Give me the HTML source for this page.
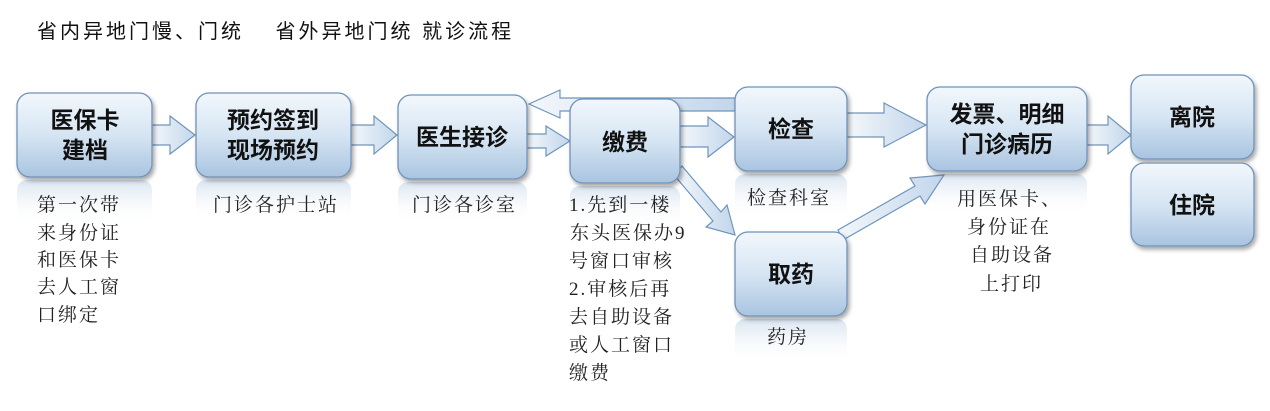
<!DOCTYPE html>
<html><head><meta charset="utf-8"><style>
body{margin:0;background:#fff;width:1270px;height:411px;overflow:hidden}
svg{display:block}
.b{font-family:"Liberation Sans","Noto Sans CJK SC",sans-serif;font-weight:bold;font-size:23px;fill:#111;text-anchor:middle}
.n{font-family:"Liberation Serif","Noto Serif CJK SC",serif;font-size:19px;letter-spacing:2px;fill:#222}
.t{font-family:"Liberation Sans","Noto Sans CJK SC",sans-serif;font-size:20px;letter-spacing:3px;fill:#111}
</style></head><body>
<svg width="1270" height="411" viewBox="0 0 1270 411">
<defs>
<linearGradient id="g" x1="0" y1="0" x2="0" y2="1"><stop offset="0" stop-color="#f2f7fc"/><stop offset="0.5" stop-color="#d6e5f3"/><stop offset="1" stop-color="#a9c4e0"/></linearGradient>
<linearGradient id="r" x1="0" y1="0" x2="0" y2="1"><stop offset="0" stop-color="#c9d9ea" stop-opacity="0.7"/><stop offset="1" stop-color="#fff" stop-opacity="0"/></linearGradient>
<linearGradient id="a" x1="0" y1="0" x2="1" y2="0"><stop offset="0" stop-color="#f3f7fb"/><stop offset="1" stop-color="#c2d6eb"/></linearGradient>
<filter id="s" x="-10%" y="-10%" width="125%" height="130%"><feDropShadow dx="2" dy="3" stdDeviation="2" flood-color="#000" flood-opacity="0.35"/></filter>
</defs>
<text class="t" x="37" y="38">省内异地门慢、门统　 省外异地门统  就诊流程</text>
<g fill="url(#r)">
<rect x="17" y="180" width="135" height="45" rx="10"/>
<rect x="196" y="180" width="155" height="40" rx="10"/>
<rect x="398" y="182" width="129" height="40" rx="10"/>
<rect x="570" y="186" width="110" height="40" rx="10"/>
<rect x="735" y="174" width="112" height="45" rx="10"/>
<rect x="927" y="174" width="160" height="40" rx="10"/>
<rect x="735" y="319" width="112" height="45" rx="10"/>
</g>
<g fill="url(#a)" stroke="#6f95bd" stroke-width="1.2">
<path d="M152,125 H170 V116 L195,135 L170,154 V145 H152 Z"/>
<path d="M351,125 H374 V116 L397,135 L374,154 V145 H351 Z"/>
<path d="M527,134 H546 V126 L570,141 L546,156 V148 H527 Z"/>
<path d="M735,98 H560 V90 L529,104 L560,118 V111 H735 Z"/>
<path d="M680,126 H708 V117 L734,137 L708,157 V147 H680 Z"/>
<path d="M847,113 H884 V103 L926,125 L884,147 V137 H847 Z"/>
<path d="M1087,125 H1108 V116 L1131,135 L1108,154 V145 H1087 Z"/>
<path d="M674,175 L713,221 L706,227 L735,235 L727,205 L721,212 L682,166 Z"/>
<path d="M843,240 L920,196 L925,204 L944,175 L910,178 L915,186 L838,230 Z"/>
</g>
<g fill="url(#g)" stroke="#6f92b8" stroke-width="1.3" filter="url(#s)">
<rect x="17" y="93" width="135" height="84" rx="13"/>
<rect x="196" y="93" width="155" height="84" rx="13"/>
<rect x="398" y="95" width="129" height="84" rx="13"/>
<rect x="570" y="99" width="110" height="84" rx="13"/>
<rect x="735" y="87" width="112" height="84" rx="13"/>
<rect x="927" y="87" width="160" height="84" rx="13"/>
<rect x="1131" y="75" width="123" height="84" rx="13"/>
<rect x="1131" y="163" width="123" height="83" rx="13"/>
<rect x="735" y="232" width="112" height="84" rx="13"/>
</g>
<text class="b" x="85" y="128">医保卡</text><text class="b" x="85" y="158">建档</text>
<text class="b" x="273" y="128">预约签到</text><text class="b" x="273" y="158">现场预约</text>
<text class="b" x="462" y="145">医生接诊</text>
<text class="b" x="625" y="150">缴费</text>
<text class="b" x="791" y="137">检查</text>
<text class="b" x="1007" y="122">发票、明细</text><text class="b" x="1007" y="152">门诊病历</text>
<text class="b" x="1192" y="125">离院</text>
<text class="b" x="1192" y="213">住院</text>
<text class="b" x="791" y="282">取药</text>
<g class="n">
<text x="37" y="211">第一次带</text><text x="37" y="239">来身份证</text><text x="37" y="266">和医保卡</text><text x="37" y="293">去人工窗</text><text x="37" y="321">口绑定</text>
<text x="213" y="211">门诊各护士站</text>
<text x="412" y="211">门诊各诊室</text>
<text x="569" y="211">1.先到一楼</text><text x="570" y="239">东头医保办9</text><text x="569" y="267">号窗口审核</text><text x="569" y="295">2.审核后再</text><text x="569" y="323">去自助设备</text><text x="569" y="351">或人工窗口</text><text x="569" y="379">缴费</text>
<text x="747" y="204">检查科室</text>
<text x="767" y="343">药房</text>
<text x="957" y="205">用医保卡、</text><text x="967" y="233">身份证在</text><text x="970" y="261">自助设备</text><text x="980" y="290">上打印</text>
</g>
</svg>
</body></html>
